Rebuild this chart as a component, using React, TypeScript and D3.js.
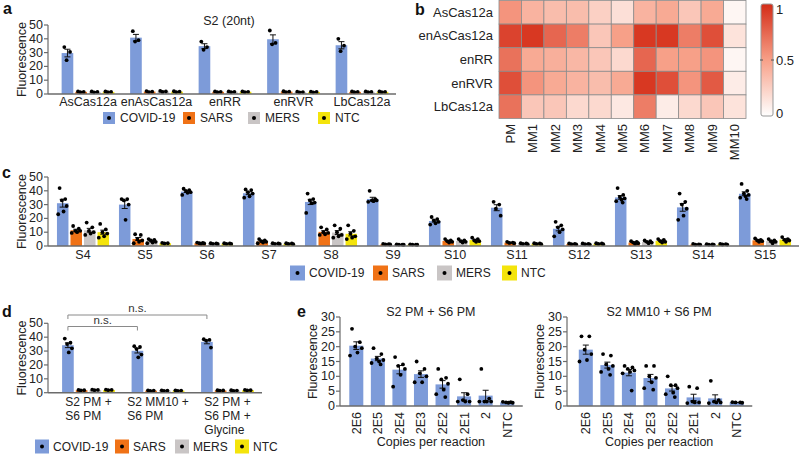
import React from "react";
import * as d3 from "d3";

const FONT = "'Liberation Sans', Arial, sans-serif";
const AXIS = "#6b6b6b";

const seriesNames = ["COVID-19", "SARS", "MERS", "NTC"];
const seriesColors = ["#7d9bd9", "#f07216", "#c9c5c5", "#f4e40b"];

// panel a: S2 (20nt), replicate dots per group
const aGroups = ["AsCas12a", "enAsCas12a", "enRR", "enRVR", "LbCas12a"];
const aCovid = [[34, 30.5, 24.5], [45.5, 39, 38], [38, 34, 32], [46, 37, 36], [40, 35, 31]];
const aSars = [[1.9, 1.5, 1.3], [2.1, 1.7, 1.4], [1.9, 1.6, 1.3], [2, 1.7, 1.4], [1.8, 1.5, 1.3]];
const aMers = [[1.8, 1.5, 1.2], [2.2, 1.8, 1.5], [1.9, 1.6, 1.3], [1.7, 1.4, 1.2], [1.8, 1.5, 1.3]];
const aNtc = [[1.8, 1.5, 1.3], [2, 1.7, 1.4], [1.9, 1.6, 1.3], [1.7, 1.5, 1.2], [1.8, 1.5, 1.3]];

// panel b: heatmap
const hmRows = ["AsCas12a", "enAsCas12a", "enRR", "enRVR", "LbCas12a"];
const hmCols = ["PM", "MM1", "MM2", "MM3", "MM4", "MM5", "MM6", "MM7", "MM8", "MM9", "MM10"];
const hmValues = [
  [0.55, 0.4, 0.35, 0.35, 0.25, 0.17, 0.4, 0.45, 0.3, 0.45, 0.05],
  [0.9, 0.95, 0.75, 0.65, 0.3, 0.5, 0.95, 0.95, 0.65, 0.85, 0.15],
  [0.7, 0.45, 0.42, 0.38, 0.3, 0.2, 0.75, 0.5, 0.5, 0.55, 0.05],
  [0.85, 0.55, 0.45, 0.4, 0.35, 0.45, 0.95, 0.85, 0.55, 0.8, 0.1],
  [0.7, 0.3, 0.3, 0.2, 0.2, 0.12, 0.65, 0.1, 0.2, 0.3, 0.15],
];
const cbTicks = [0, 0.5, 1];

// panel c: spacers S4..S15
const cGroups = ["S4", "S5", "S6", "S7", "S8", "S9", "S10", "S11", "S12", "S13", "S14", "S15"];
const cCovid = [
  [42, 34, 33, 29, 25, 23], [34, 34, 33, 30, 19], [41.5, 40.5, 40, 39, 38.5, 37], [41, 40.5, 39, 38, 36, 35],
  [38, 34, 33, 31.5, 31, 24], [40, 34, 33, 33, 32.5, 32], [21, 19.5, 18.5, 17.5, 16.5, 15.5], [32, 30, 27, 22],
  [17.5, 15, 13.5, 12, 10, 7], [42, 37, 35.5, 34.5, 33.5, 32.5, 31.5], [38, 32, 30, 27, 22, 19], [45, 40, 38, 37, 36, 35, 34],
];
const cSars = [
  [14.5, 12.5, 11, 11, 10, 9.5], [8.5, 8, 5, 4, 3, 2], [2.5, 2.2, 2, 1.8, 1.6], [5, 4, 3.5, 3, 2.5, 2],
  [13.5, 12, 10, 9.5, 8.5, 8], [1.5, 1.3, 1.2, 1.1], [5, 4, 3.5, 3, 2.5], [3, 2.5, 2.2, 2],
  [1.8, 1.5, 1.3, 1.2], [3.5, 3, 2.5, 2, 1.5], [1.5, 1.2, 1, 1], [5.5, 4.5, 4, 3.5, 3],
];
const cMers = [
  [17, 13.5, 11, 10, 9, 8], [5, 4.5, 4, 3, 2.5, 2], [2, 1.8, 1.6, 1.5], [2, 1.8, 1.6, 1.5],
  [15, 12.5, 10, 8, 7, 6], [1.2, 1, 1, 0.9], [5, 4, 3.5, 3, 2.5], [2, 1.8, 1.5, 1.3],
  [1.8, 1.5, 1.3, 1.2], [4, 3.5, 3, 2.5, 2], [1.3, 1.1, 1, 1], [5, 4, 3.5, 3, 2],
];
const cNtc = [
  [16, 12, 10, 9, 7, 6], [2.2, 2, 1.8], [2, 1.8, 1.6, 1.5], [2, 1.8, 1.5, 1.3],
  [15, 11, 9, 7, 6, 5], [1.2, 1, 1, 0.9], [6, 5, 4, 3.5, 3], [2, 1.8, 1.5, 1.3],
  [2, 1.8, 1.5, 1.3], [5, 4.5, 3.5, 3, 2.5], [1.5, 1.3, 1.1, 1], [6.5, 5, 4.5, 4, 3],
];

// panel d
const dGroups = ["g1", "g2", "g3"];
const dLabels = [["S2 PM +", "S6 PM"], ["S2 MM10 +", "S6 PM"], ["S2 PM +", "S6 PM +", "Glycine"]];
const dCovid = [[39, 36, 35, 32, 29], [33.5, 33, 31.5, 27.5, 25.5], [38.5, 38, 37.5, 32.5]];
const dSars = [[2, 1.8, 1.6], [1.7, 1.5, 1.3], [1.8, 1.6, 1.4]];
const dMers = [[2.2, 2, 1.8], [1.7, 1.5, 1.3], [1.8, 1.5, 1.3]];
const dNtc = [[2.2, 2, 1.8], [1.7, 1.5, 1.3], [2, 1.8, 1.6]];

// panel e: dilution series
const eCopies = ["2E6", "2E5", "2E4", "2E3", "2E2", "2E1", "2", "NTC"];
const ePM = [
  [26, 21.5, 20, 19.5, 18, 17], [19.5, 17.5, 16, 15.5, 15, 14.5, 14], [16.5, 14, 13.5, 12.5, 10.5, 6.5],
  [15, 12.5, 11, 10, 8, 8], [12.5, 9.5, 9, 7.5, 5.5, 4, 3], [9, 4, 2, 1.5, 1.5, 1.5],
  [12.5, 2.5, 1.5, 1.5, 1.5, 1.5], [1.4, 1.3, 1.2, 1.1, 1.1],
];
const eMM10 = [
  [23.5, 23.5, 19, 17.5, 15.5, 15], [17.5, 17, 14, 13.5, 12.5, 11.5, 10.5], [13.5, 13, 12.5, 12, 11.5, 11, 5.2],
  [13.5, 13.5, 10, 9.5, 8, 6, 5.5], [10, 7, 7, 6, 4.5, 4, 3], [6.5, 6, 1.5, 1.2, 1.2, 1],
  [8.5, 2, 1.5, 1.2, 1.2, 1], [1.3, 1.2, 1.2, 1.1],
];

const jitter = [-0.55, 0.45, -0.15, 0.7, 0.15, -0.8, 0.35];

const ctx = document.createElement("canvas").getContext("2d");
const measure = (t: string, size: number) => {
  ctx.font = `${size}px ${FONT}`;
  return ctx.measureText(t).width;
};

const stat = (v: number[]) => ({
  m: d3.mean(v) as number,
  se: v.length > 1 ? (d3.deviation(v) as number) / Math.sqrt(v.length) : 0,
});

function Bar({ x, w, vals, y, color, dotR = 1.9, spread = 0.35 }) {
  const { m, se } = stat(vals);
  const cx = x + w / 2;
  const cap = Math.min(3, w / 3);
  return (
    <g>
      <rect x={x} y={y(m)} width={w} height={y(0) - y(m)} fill={color} />
      <line x1={cx} x2={cx} y1={y(m - se)} y2={y(m + se)} stroke="#111" strokeWidth={1} />
      <line x1={cx - cap} x2={cx + cap} y1={y(m + se)} y2={y(m + se)} stroke="#111" strokeWidth={1} />
      <line x1={cx - cap} x2={cx + cap} y1={y(m - se)} y2={y(m - se)} stroke="#111" strokeWidth={1} />
      {vals.map((v, i) => (
        <circle key={i} cx={cx + jitter[i % jitter.length] * w * spread * 1.4} cy={y(v)} r={dotR} fill="#000" />
      ))}
    </g>
  );
}

function makeX(groups, range, pad) {
  const x0 = d3.scaleBand().domain(groups).range(range).paddingInner(pad).paddingOuter(pad / 2);
  const x1 = d3.scaleBand().domain(d3.range(4)).range([0, x0.bandwidth()]).paddingInner(0.15);
  return { x0, x1 };
}

function GroupedBars({ groups, series, x0, x1, y }) {
  return (
    <g>
      {groups.map((g, gi) =>
        series.map((s, si) => (
          <Bar key={g + si} x={x0(g) + x1(si)} w={x1.bandwidth()} vals={s[gi]} y={y} color={seriesColors[si]} />
        ))
      )}
    </g>
  );
}

function YAxis({ x, y, ticks, titleX, xEnd }) {
  const [y0, y1] = y.range();
  return (
    <g>
      <line x1={x} x2={x} y1={y0} y2={y1} stroke={AXIS} strokeWidth={1.2} />
      <line x1={x} x2={xEnd} y1={y0} y2={y0} stroke={AXIS} strokeWidth={1.5} />
      {ticks.map((t) => (
        <g key={t}>
          <line x1={x - 4} x2={x} y1={y(t)} y2={y(t)} stroke={AXIS} strokeWidth={1.2} />
          <text x={x - 5} y={y(t)} textAnchor="end" dominantBaseline="central" fontSize={12.5} fill="#222">
            {t}
          </text>
        </g>
      ))}
      <text
        transform={`translate(${titleX},${(y0 + y1) / 2}) rotate(-90)`}
        textAnchor="middle"
        dominantBaseline="central"
        fontSize={12.5}
        fill="#222"
      >
        Fluorescence
      </text>
    </g>
  );
}

function Legend({ xs, y, size, gap }) {
  return (
    <g>
      {seriesNames.map((n, i) => (
        <g key={n}>
          <rect x={xs[i]} y={y - size / 2} width={size} height={size} fill={seriesColors[i]} />
          <circle cx={xs[i] + size / 2} cy={y} r={2} fill="#000" />
          <text x={xs[i] + size + gap} y={y} dominantBaseline="central" fontSize={12} fill="#222">
            {n}
          </text>
        </g>
      ))}
    </g>
  );
}

function PanelA() {
  const y = d3.scaleLinear().domain([0, 50]).range([94, 25]);
  const { x0, x1 } = makeX(aGroups, [53.75, 396.25], 0.23);
  return (
    <g>
      <GroupedBars groups={aGroups} series={[aCovid, aSars, aMers, aNtc]} x0={x0} x1={x1} y={y} />
      <YAxis x={48} y={y} ticks={y.ticks(5)} titleX={22} xEnd={396} />
      {aGroups.map((g) => (
        <text key={g} x={x0(g) + x0.bandwidth() / 2} y={106} textAnchor="middle" fontSize={12.5} fill="#222">
          {g}
        </text>
      ))}
      <text x={229} y={25} textAnchor="middle" fontSize={12.5} fill="#222">S2 (20nt)</text>
      <Legend xs={[103, 183, 248, 318]} y={118} size={12} gap={5} />
    </g>
  );
}

function PanelB() {
  const x = d3.scaleBand().domain(hmCols).range([499, 746]);
  const y = d3.scaleBand().domain(hmRows).range([0.5, 118.5]);
  const color = d3.scaleLinear<string>().domain([0, 0.5, 1]).range(["#ffffff", "#f7a088", "#d42c17"]);
  const cb = d3.scaleLinear().domain([0, 1]).range([116, 4]);
  return (
    <g>
      <defs>
        <linearGradient id="cbgrad" x1="0" y1="1" x2="0" y2="0">
          {d3.range(0, 1.01, 0.1).map((t) => (
            <stop key={t} offset={t} stopColor={color(t)} />
          ))}
        </linearGradient>
      </defs>
      {hmRows.map((r, ri) =>
        hmCols.map((c, ci) => (
          <rect key={r + c} x={x(c)} y={y(r)} width={x.bandwidth()} height={y.bandwidth()}
            fill={color(hmValues[ri][ci])} stroke="#8c8c8c" strokeWidth={0.8} />
        ))
      )}
      {hmRows.map((r) => (
        <text key={r} x={493} y={y(r) + y.bandwidth() / 2} textAnchor="end" dominantBaseline="central" fontSize={13} fill="#222">
          {r}
        </text>
      ))}
      {hmCols.map((c) => (
        <text key={c} transform={`translate(${x(c) + x.bandwidth() / 2 + 4.5},124) rotate(-90)`} textAnchor="end" fontSize={13} fill="#222">
          {c}
        </text>
      ))}
      <rect x={761} y={4} width={12} height={112} rx={2} fill="url(#cbgrad)" stroke="#999" strokeWidth={1} />
      <line x1={760} x2={763} y1={cb(0.5)} y2={cb(0.5)} stroke="#555" />
      <line x1={771} x2={774} y1={cb(0.5)} y2={cb(0.5)} stroke="#555" />
      {cbTicks.map((t) => (
        <text key={t} x={776} y={Math.min(113, Math.max(9, cb(t)))} dominantBaseline="central" fontSize={13} fill="#222">
          {t}
        </text>
      ))}
    </g>
  );
}

function PanelC() {
  const y = d3.scaleLinear().domain([0, 50]).range([246, 177]);
  const { x0, x1 } = makeX(cGroups, [52, 796], 0.16);
  return (
    <g>
      <GroupedBars groups={cGroups} series={[cCovid, cSars, cMers, cNtc]} x0={x0} x1={x1} y={y} />
      <YAxis x={48} y={y} ticks={y.ticks(5)} titleX={22} xEnd={799} />
      {cGroups.map((g) => (
        <text key={g} x={x0(g) + x0.bandwidth() / 2} y={259} textAnchor="middle" fontSize={12.5} fill="#222">
          {g}
        </text>
      ))}
      <Legend xs={[290, 373, 437, 502]} y={273} size={15} gap={4} />
    </g>
  );
}

function PanelD() {
  const y = d3.scaleLinear().domain([0, 50]).range([392.7, 323.3]);
  const { x0, x1 } = makeX(dGroups, [53.75, 262.25], 0.24);
  const blueC = (g) => x0(g) + x1(0) + x1.bandwidth() / 2;
  const brackets = [
    { a: "g1", b: "g3", y: 315 },
    { a: "g1", b: "g2", y: 326.5 },
  ];
  return (
    <g>
      <GroupedBars groups={dGroups} series={[dCovid, dSars, dMers, dNtc]} x0={x0} x1={x1} y={y} />
      <YAxis x={48} y={y} ticks={y.ticks(5)} titleX={22} xEnd={262} />
      {brackets.map((b, i) => (
        <g key={i}>
          <path d={`M${blueC(b.a)},${b.y + 4}V${b.y}H${blueC(b.b)}V${b.y + 4}`} fill="none" stroke="#8a8a8a" strokeWidth={1} />
          <text x={(blueC(b.a) + blueC(b.b)) / 2} y={b.y - 3} textAnchor="middle" fontSize={11.5} fill="#333">n.s.</text>
        </g>
      ))}
      {dGroups.map((g, gi) => {
        const w = d3.max(dLabels[gi], (l) => measure(l, 12)) as number;
        const cx = x0(g) + x0.bandwidth() / 2;
        return dLabels[gi].map((l, li) => (
          <text key={g + li} x={cx - w / 2} y={406 + li * 14} fontSize={12} fill="#222">
            {l}
          </text>
        ));
      })}
      <Legend xs={[35, 115, 175, 235]} y={446.5} size={14} gap={4} />
    </g>
  );
}

function DilutionChart({ data, range, axisX, title, titleX }) {
  const y = d3.scaleLinear().domain([0, 30]).range([406, 317]);
  const x = d3.scaleBand().domain(eCopies).range(range).padding(0.35);
  return (
    <g>
      {eCopies.map((c, i) => (
        <Bar key={c} x={x(c)} w={x.bandwidth()} vals={data[i]} y={y} color={seriesColors[0]} spread={0.4} />
      ))}
      <YAxis x={axisX} y={y} ticks={y.ticks(6)} titleX={titleX} xEnd={range[1] + 1} />
      {eCopies.map((c) => (
        <text key={c} transform={`translate(${x(c) + x.bandwidth() / 2 + 4.5},412) rotate(-90)`} textAnchor="end" fontSize={12.5} fill="#222">
          {c}
        </text>
      ))}
      <text x={(axisX + range[1]) / 2} y={316} textAnchor="middle" fontSize={12.5} fill="#222">{title}</text>
      <text x={(axisX + range[1]) / 2} y={446} textAnchor="middle" fontSize={12.5} fill="#222">Copies per reaction</text>
    </g>
  );
}

export default function App() {
  return (
    <svg width={799} height={456} fontFamily={FONT} style={{ position: "absolute", left: 0, top: 0, display: "block" }}>
      <rect width={799} height={456} fill="#fff" />
      <PanelA />
      <PanelB />
      <PanelC />
      <PanelD />
      <DilutionChart data={ePM} range={[341.75, 521.75]} axisX={340} title="S2 PM + S6 PM" titleX={313} />
      <DilutionChart data={eMM10} range={[571.25, 751.25]} axisX={567} title="S2 MM10 + S6 PM" titleX={540} />
      {[["a", 3, 14], ["b", 415, 15], ["c", 2, 178], ["d", 2, 317], ["e", 297, 317]].map(([l, x, y]) => (
        <text key={l as string} x={x as number} y={y as number} fontSize={16} fontWeight="bold" fill="#111">
          {l}
        </text>
      ))}
    </svg>
  );
}
